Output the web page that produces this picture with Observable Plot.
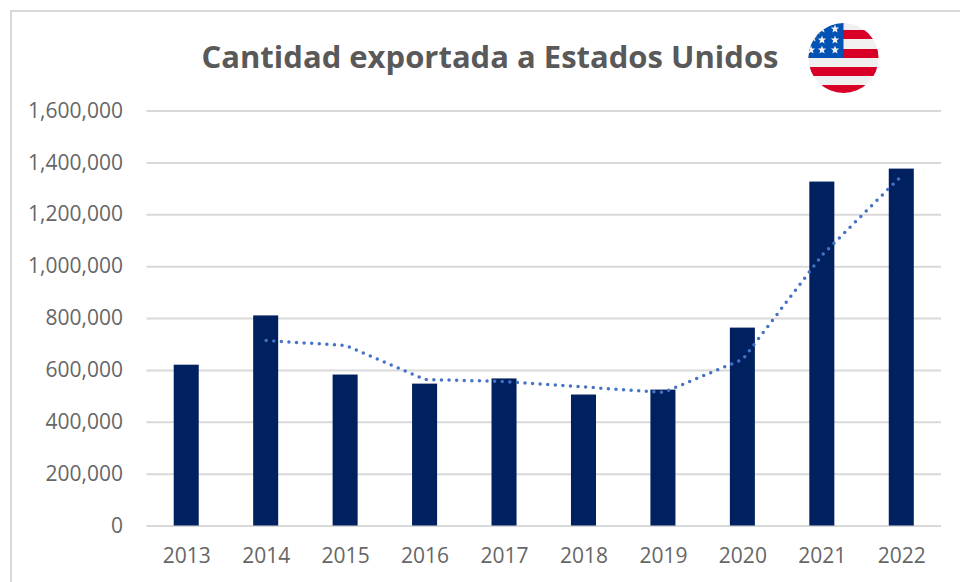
<!DOCTYPE html>
<html><head><meta charset="utf-8">
<script src="https://cdn.jsdelivr.net/npm/d3@7"></script>
<script src="https://cdn.jsdelivr.net/npm/@observablehq/plot@0.6"></script>
<style>
html,body{margin:0;padding:0;background:#fff;overflow:hidden}
#wrap{position:relative;width:960px;height:582px;overflow:hidden}
#frame{position:absolute;left:10px;top:10px;width:960px;height:600px;border-left:2px solid #d9d9d9;border-top:2px solid #d9d9d9}
#title{position:absolute;left:0;top:36px;width:980px;text-align:center;font:700 31px "Open Sans",sans-serif;color:#595959;line-height:40px;white-space:nowrap}
#chart{position:absolute;left:0;top:0}
#flag{position:absolute;left:0;top:0}
</style></head>
<body><div id="wrap"><div id="frame"></div><div id="chart"></div><div id="title"></div>
<svg id="flag" width="960" height="120" viewBox="0 0 960 120">
<defs><clipPath id="c"><circle cx="843.5" cy="58" r="35"/></clipPath></defs>
<g clip-path="url(#c)">
<rect x="808" y="23" width="71" height="70" fill="#f0f0f0"/>
<rect x="808" y="30" width="71" height="9" fill="#d80027"/>
<rect x="808" y="49" width="71" height="9" fill="#d80027"/>
<rect x="808" y="67" width="71" height="9" fill="#d80027"/>
<rect x="808" y="85" width="71" height="9" fill="#d80027"/>
<rect x="808" y="23" width="35.5" height="35" fill="#0052b4"/>
<g fill="#f0f0f0" id="stars"></g>
</g></svg></div>
<script>
const titleText = "Cantidad exportada a Estados Unidos";
const years = ["2013","2014","2015","2016","2017","2018","2019","2020","2021","2022"];
const quantities = [620000,810000,582000,547000,567000,505000,524000,763000,1326000,1376000];
const trendYears = ["2014","2015","2016","2017","2018","2019","2020","2021","2022"];
const trendValues = [715000,696000,565000,557000,536000,515000,643000,1045000,1351000];
const yTicks = [0,200000,400000,600000,800000,1000000,1200000,1400000,1600000];

document.getElementById("title").textContent = titleText;
const starSpots = [[835,29],[822,29],[835,40],[822,40],[835,50],[822,50],[811,50],[813,38],[817,31]];
document.getElementById("stars").innerHTML = starSpots.map(([x,y])=>{
  const p=[];for(let i=0;i<10;i++){const r=i%2?1.9:4.4,a=-Math.PI/2+i*Math.PI/5;p.push((x+r*Math.cos(a)).toFixed(1)+","+(y+r*Math.sin(a)).toFixed(1));}
  return `<polygon points="${p.join(" ")}"/>`;}).join("");

const data = years.map((y,i)=>({year:y,value:quantities[i]}));
const trend = trendYears.map((y,i)=>({year:y,value:trendValues[i]}));
const font = '"Open Sans",sans-serif';
const plot = Plot.plot({
  width:960,height:582,
  marginTop:110.5,marginBottom:56.5,marginLeft:146.5,marginRight:19,
  style:{background:"transparent",fontFamily:font,fontSize:"21px",color:"#595959",overflow:"visible"},
  x:{domain:years,paddingInner:0.685,paddingOuter:0.3425,round:false,label:null},
  y:{domain:[0,1600000],label:null},
  marks:[
    Plot.gridY(yTicks,{stroke:"#d9d9d9",strokeOpacity:1,strokeWidth:2}),
    Plot.barY(data,{x:"year",y:"value",fill:"#002060"}),
    Plot.line(trend,{x:"year",y:"value",stroke:"#4472c4",strokeWidth:3.5,strokeLinecap:"round",strokeDasharray:"0 7.6"}),
    Plot.axisY({ticks:yTicks,tickFormat:d3.format(","),tickSize:0,tickPadding:24,label:null,fill:"#666666",fontSize:21}),
    Plot.axisX({tickSize:0,tickPadding:22,label:null,fill:"#666666",fontSize:21})
  ]
});
document.getElementById("chart").appendChild(plot);
</script></body></html>
